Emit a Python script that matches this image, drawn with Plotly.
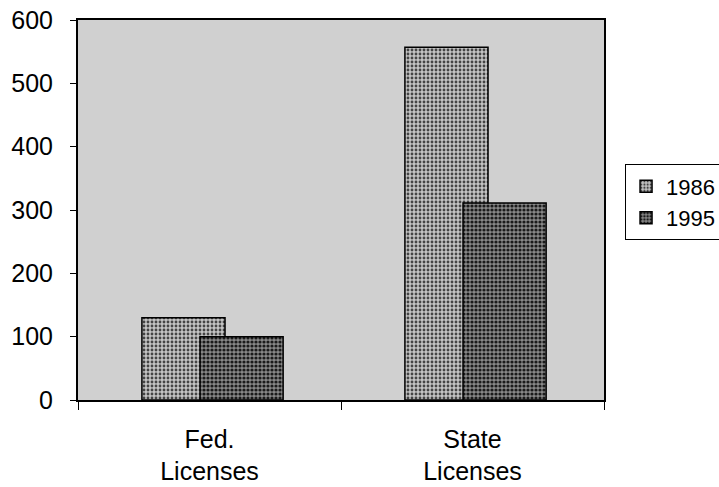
import plotly.graph_objects as go

categories = ["Fed.<br>Licenses", "State<br>Licenses"]
series_names = ["1986", "1995"]
values_1986 = [130, 557]
values_1995 = [100, 311]

font_family = "Liberation Sans, Arial, sans-serif"

fig = go.Figure()
fig.add_trace(go.Bar(
    x=categories, y=values_1986, name=series_names[0],
    width=0.316, offset=-0.257,
    marker=dict(color="#b0b0b0", line=dict(color="black", width=1.5),
                pattern=dict(shape=".", fgcolor="#444444", bgcolor="#c4c4c4", size=4, solidity=0.4, fillmode="replace")),
))
fig.add_trace(go.Bar(
    x=categories, y=values_1995, name=series_names[1],
    width=0.316, offset=-0.036,
    marker=dict(color="#6a6a6a", line=dict(color="black", width=1.5),
                pattern=dict(shape=".", fgcolor="#1a1a1a", bgcolor="#888888", size=4, solidity=0.5, fillmode="replace")),
))

fig.update_layout(
    width=719, height=487,
    margin=dict(l=78, r=115, t=20, b=87, autoexpand=False),
    barmode="overlay",
    paper_bgcolor="white",
    plot_bgcolor="#d0d0d0",
    font=dict(family=font_family, size=25, color="black"),
    showlegend=True,
    legend=dict(x=1.04, y=0.52, xanchor="left", yanchor="middle",
                bordercolor="black", borderwidth=1, bgcolor="white",
                font=dict(size=22), itemwidth=30, tracegroupgap=6),
    xaxis=dict(showline=True, linecolor="black", linewidth=1.5, mirror=True,
               ticks="outside", tickson="boundaries", ticklen=8, tickcolor="black",
               showgrid=False, tickfont=dict(size=25), ticklabelstandoff=16,
               automargin=False),
    yaxis=dict(range=[0, 600], dtick=100, showline=True, linecolor="black", linewidth=2,
               mirror=True, ticks="outside", ticklen=6, tickcolor="black",
               showgrid=False, zeroline=False, tickfont=dict(size=25),
               ticklabelstandoff=12, ticklabeloverflow="allow", automargin=False),
)

fig.write_html("out.html", config={"displayModeBar": False},
               post_script="document.body.style.margin='0';")
